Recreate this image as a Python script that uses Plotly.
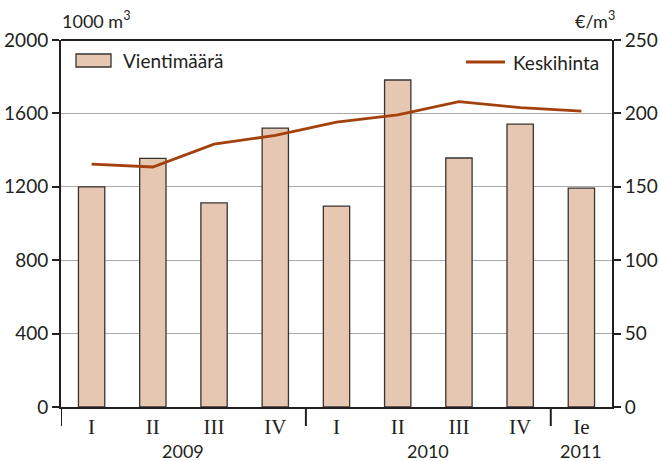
import plotly.graph_objects as go

quarters = ["I", "II", "III", "IV", "I", "II", "III", "IV", "Ie"]
years = ["2009", "2010", "2011"]
year_quarter_counts = [4, 4, 1]
export_volume = [1200, 1355, 1112, 1520, 1095, 1782, 1357, 1542, 1193]
avg_price = [165.5, 163.5, 179, 185, 194, 199, 208, 204, 201.5]

x = list(range(len(quarters)))
serif = "Liberation Serif"
sans = "Lato, Open Sans, sans-serif"
dark = "#231f20"
bar_fill = "#e6c8b2"
bar_edge = "#3a3333"
line_col = "#a3410d"

fig = go.Figure()
fig.add_trace(go.Bar(
    x=x, y=export_volume, name="Vientimäärä",
    marker=dict(color=bar_fill, line=dict(color=bar_edge, width=1.3)),
    width=0.43, showlegend=False,
))
fig.add_trace(go.Scatter(
    x=x, y=avg_price, name="Keskihinta", mode="lines", yaxis="y2",
    line=dict(color=line_col, width=2.8), showlegend=False,
))

W, H = 660, 461
L, R, T, B = 61, 48, 40, 54
pw, ph = W - L - R, H - T - B


def px(xp):
    return (xp - L) / pw


def py(yp):
    return (H - B - yp) / ph


shapes = []
pos = -0.5
bounds = [pos]
for c in year_quarter_counts:
    pos += c
    bounds.append(pos)
for b in bounds[:-1]:
    shapes.append(dict(type="line", xref="x", yref="paper", x0=b, x1=b, y0=0, y1=py(426),
                       line=dict(color=dark, width=2)))
# top border
shapes.append(dict(type="line", xref="paper", yref="paper", x0=0, x1=1, y0=1, y1=1,
                   line=dict(color=dark, width=2)))
# legend swatches
shapes.append(dict(type="rect", xref="paper", yref="paper", x0=px(76), x1=px(111), y0=py(67), y1=py(54),
                   fillcolor=bar_fill, line=dict(color=bar_edge, width=1.3)))
shapes.append(dict(type="line", xref="paper", yref="paper", x0=px(466), x1=px(505), y0=py(62), y1=py(62),
                   line=dict(color=line_col, width=2.8)))

annotations = []
start = 0
for yr, c in zip(years, year_quarter_counts):
    center = start + (c - 1) / 2
    annotations.append(dict(x=center, y=py(451), xref="x", yref="paper", text=yr,
                            showarrow=False, yanchor="middle", font=dict(family=sans, size=18, color=dark)))
    start += c
annotations.append(dict(x=px(60), y=py(20), xref="paper", yref="paper", text="1000 m<sup>3</sup>",
                        showarrow=False, xanchor="left", yanchor="middle",
                        font=dict(family=sans, size=18, color=dark)))
annotations.append(dict(x=px(617), y=py(20), xref="paper", yref="paper", text="€/m<sup>3</sup>",
                        showarrow=False, xanchor="right", yanchor="middle",
                        font=dict(family=sans, size=18, color=dark)))
annotations.append(dict(x=px(121), y=py(61), xref="paper", yref="paper", text="Vientimäärä",
                        showarrow=False, xanchor="left", yanchor="middle",
                        font=dict(family=sans, size=19, color=dark)))
annotations.append(dict(x=px(511), y=py(62), xref="paper", yref="paper", text="Keskihinta",
                        showarrow=False, xanchor="left", yanchor="middle",
                        font=dict(family=sans, size=19, color=dark)))

fig.update_layout(
    width=W, height=H,
    margin=dict(l=L, r=R, t=T, b=B, autoexpand=False),
    paper_bgcolor="white", plot_bgcolor="white",
    showlegend=False,
    xaxis=dict(
        tickvals=x, ticktext=quarters, range=[-0.5, len(x) - 0.5], automargin=False,
        showline=True, linecolor=dark, linewidth=2, ticks="", showgrid=False,
        tickfont=dict(family=serif, size=21, color=dark), zeroline=False,
    ),
    yaxis=dict(
        range=[0, 2000], tickvals=[0, 400, 800, 1200, 1600, 2000], automargin=False,
        showline=True, linecolor=dark, linewidth=2, ticks="outside", ticklen=7, tickwidth=2,
        tickcolor=dark, gridcolor="#ababab", gridwidth=1,
        tickfont=dict(family=sans, size=19, color=dark), zeroline=False,
    ),
    yaxis2=dict(
        range=[0, 250], tickvals=[0, 50, 100, 150, 200, 250], overlaying="y", side="right",
        automargin=False,
        showline=True, linecolor=dark, linewidth=2, ticks="outside", ticklen=7, tickwidth=2,
        tickcolor=dark, showgrid=False, tickfont=dict(family=sans, size=19, color=dark),
        zeroline=False,
    ),
    shapes=shapes, annotations=annotations,
)

fig.write_html("out.html", config={"displayModeBar": False},
               post_script="document.body.style.margin='0';")
